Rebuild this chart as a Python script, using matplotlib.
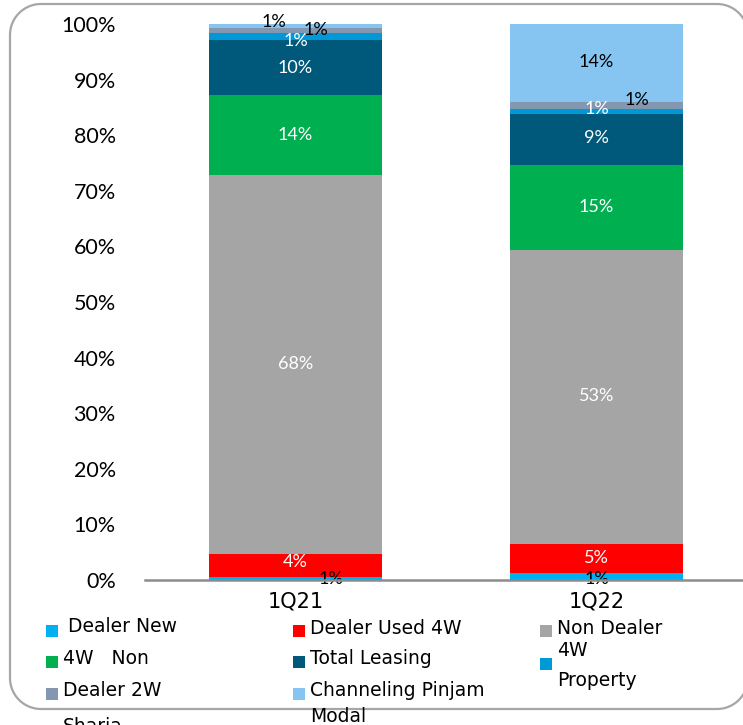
import matplotlib
matplotlib.use("Agg")
import matplotlib.pyplot as plt
from matplotlib.patches import PathPatch, Rectangle
from matplotlib.path import Path
import numpy as np

# --- data -------------------------------------------------------------
periods = ["1Q21", "1Q22"]
segments = ["Dealer New", "Dealer Used 4W", "Non Dealer 4W", "4W Non",
            "Total Leasing", "Property", "Dealer 2W", "Channeling Pinjam Modal"]
share_1q21 = [0.6, 4.1, 68.1, 14.4, 9.9, 1.2, 1.0, 0.7]
share_1q22 = [1.3, 5.2, 52.9, 15.2, 9.2, 0.9, 1.3, 14.0]
y_ticks = [0, 10, 20, 30, 40, 50, 60, 70, 80, 90, 100]

# --- styling ----------------------------------------------------------
colors = ["#00B0F0", "#FF0000", "#A5A5A5", "#00B050",
          "#00587A", "#0099D8", "#8497B0", "#86C5F2"]
label_colors = ["black", "white", "white", "white",
                "white", "white", "black", "black"]
# per-bar label nudges (pixels) for the thin segments
label_offsets = [
    [(35, -1), (0, 3), (0, 1), (0, 0), (0, 0), (0, -4), (20, 1), (-22, 4)],
    [(0, -3), (0, 0), (0, 1), (0, 0), (0, 2), (0, 3), (40, 5), (0, 1)],
]

W, H, DPI = 743, 725, 100
fig = plt.figure(figsize=(W / DPI, H / DPI), dpi=DPI)


def rounded_frame(x0, y0, x1, y1, r, n=24):
    """Closed rounded-rectangle outline in figure pixel coordinates."""
    pts = []
    corners = [(x1 - r, y1 - r, 0.0), (x0 + r, y1 - r, 90.0),
               (x0 + r, y0 + r, 180.0), (x1 - r, y0 + r, 270.0)]
    for cx, cy, a0 in corners:
        t = np.radians(np.linspace(a0, a0 + 90.0, n))
        pts.extend(zip(cx + r * np.cos(t), cy + r * np.sin(t)))
    pts.append(pts[0])
    return Path(np.array(pts) / [W, H])


frame = PathPatch(rounded_frame(10, H - 709, 748, H - 4, 31),
                  transform=fig.transFigure, facecolor="none",
                  edgecolor="#A6A6A6", linewidth=1.6, zorder=0)
fig.patches.append(frame)

ax = fig.add_axes([145 / W, (H - 580) / H, (750 - 145) / W, 556 / H])
ax.set_xlim(-0.5, 1.51)
ax.set_ylim(0, 100)

x = np.arange(len(periods))
data = np.array([share_1q21, share_1q22])
bottoms = np.zeros(len(periods))
bar_w = 0.575
for i, seg in enumerate(segments):
    vals = data[:, i]
    bars = ax.bar(x, vals, bar_w, bottom=bottoms, color=colors[i],
                  label=seg, zorder=2)
    for j, b in enumerate(bars):
        dx, dy = label_offsets[j][i]
        ax.annotate(f"{vals[j]:.0f}%",
                    xy=(b.get_x() + b.get_width() / 2, bottoms[j] + vals[j] / 2),
                    xytext=(dx, dy), textcoords="offset pixels",
                    ha="center", va="center", fontsize=13,
                    color=label_colors[i], family="Lato", zorder=3)
    bottoms += vals

for s in ["top", "right", "left"]:
    ax.spines[s].set_visible(False)
ax.spines["bottom"].set_color("#8C8C8C")
ax.spines["bottom"].set_linewidth(1.8)
ax.spines["bottom"].set_zorder(4)

ax.set_yticks(y_ticks)
ax.set_yticklabels([f"{t}%" for t in y_ticks], family="Lato", fontsize=15.5)
ax.tick_params(axis="y", length=0, pad=21)
ax.set_xticks(x)
ax.set_xticklabels(periods, family="DejaVu Sans", fontsize=15)
ax.tick_params(axis="x", length=0, pad=8)

# legend laid out in three columns with wrapped labels
leg_fs = 13.5
leg_font = "DejaVu Sans"
leg_items = [
    (0, 46, 631, 68, 627, "Dealer New"),
    (1, 293, 631, 310, 628, "Dealer Used 4W"),
    (2, 540, 631, 557, 628, "Non Dealer"),
    (3, 46, 662, 63, 659, "4W   Non"),
    (4, 293, 662, 310, 659, "Total Leasing"),
    (5, 540, 664, 557, 681, "Property"),
    (6, 46, 694, 63, 690, "Dealer 2W"),
    (7, 293, 694, 310, 690, "Channeling Pinjam"),
]
for idx, mx, my, tx, ty, txt in leg_items:
    fig.patches.append(Rectangle((mx / W, (H - my - 6) / H), 12 / W, 12 / H,
                                 transform=fig.transFigure,
                                 facecolor=colors[idx], edgecolor="none"))
    fig.text(tx / W, (H - ty) / H, txt, ha="left", va="center",
             fontsize=leg_fs, family=leg_font)
fig.text(557 / W, (H - 651) / H, "4W", ha="left", va="center",
         fontsize=leg_fs, family=leg_font)
fig.text(310 / W, (H - 716) / H, "Modal", ha="left", va="center",
         fontsize=leg_fs, family=leg_font)
fig.text(63 / W, (H - 726) / H, "Sharia", ha="left", va="center",
         fontsize=leg_fs, family=leg_font)

fig.savefig("out.png", dpi=DPI)
